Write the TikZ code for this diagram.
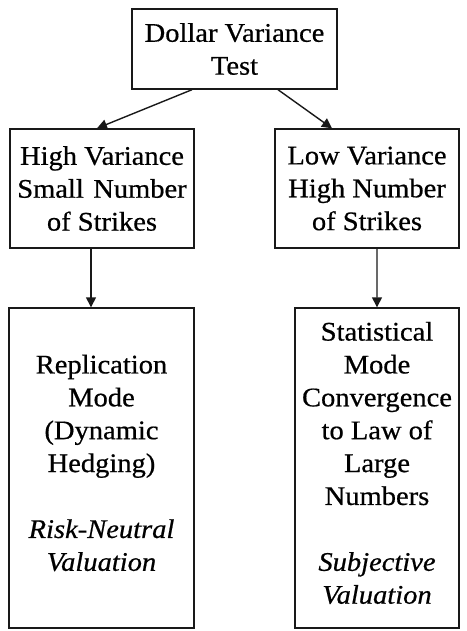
\documentclass[tikz,border=0pt]{standalone}
\usepackage{fontspec}
\setmainfont{Liberation Serif}[FakeStretch=1.06,FakeBold=0.6]
\usetikzlibrary{arrows.meta}
\begin{document}
\begin{tikzpicture}[x=1bp,y=-1bp,
  boxnode/.style={draw=black!90,line width=1.4bp,inner sep=0pt,align=center,
    font=\fontsize{27}{33}\selectfont},
  conn/.style={line width=1.4bp,draw=black!90,-{Triangle[length=10bp,width=10bp]}}]
\useasboundingbox (0,0) rectangle (467,631);
\node[boxnode,minimum width=205bp,minimum height=80bp] (top) at (234.5,49) {Dollar Variance\\Test};
\node[boxnode,minimum width=184bp,minimum height=119bp] (ml) at (102,188.5) {High Variance\\Small\hskip0.35em Number\\of Strikes};
\node[boxnode,minimum width=184bp,minimum height=119bp] (mr) at (367,188.5) {Low Variance\\High Number\\of Strikes};
\node[boxnode,minimum width=185bp,minimum height=320bp] (bl) at (101.5,468) {};
\node[align=center,font=\fontsize{27}{33}\selectfont,inner sep=0pt] (blt) at (101.5,463) {Replication\\Mode\\(Dynamic\\Hedging)\\[33bp]\textit{Risk-Neutral}\\\textit{Valuation}};
\node[boxnode,minimum width=164bp,minimum height=320bp] (br) at (377,468) {};
\node[align=center,font=\fontsize{27}{33}\selectfont,inner sep=0pt] (brt) at (377,463) {Statistical\\Mode\\Convergence\\to Law of\\Large\\Numbers\\[33bp]\textit{Subjective}\\\textit{Valuation}};
\draw[conn] ([xshift=-42.5bp]top.south) -- ([xshift=-5bp]ml.north);
\draw[conn] ([xshift=43.5bp]top.south) -- ([xshift=-35bp]mr.north);
\draw[conn] ([xshift=-11bp]ml.south) -- ([xshift=-10.5bp]bl.north);
\draw[conn] ([xshift=10bp]mr.south) -- (br.north);
\end{tikzpicture}
\end{document}
